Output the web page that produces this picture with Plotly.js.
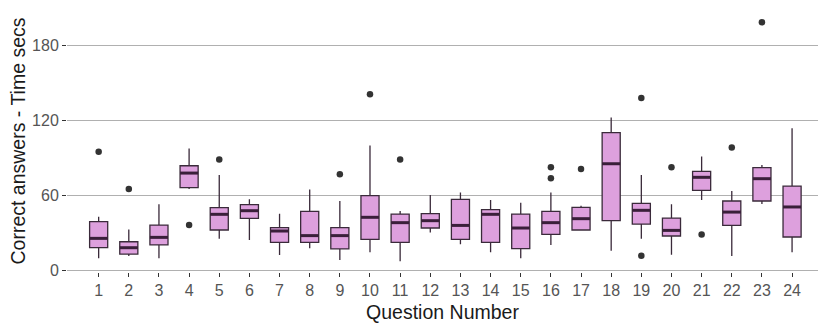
<!DOCTYPE html>
<html>
<head>
<meta charset="utf-8">
<script src="https://cdn.plot.ly/plotly-3.0.1.min.js"></script>
<style>
  html, body { margin: 0; padding: 0; background: #fff; }
  #chart { width: 830px; height: 334px; }
</style>
</head>
<body>
<div id="chart"></div>
<script>
// question numbers and box stats (seconds)
var questions = [1, 2, 3, 4, 5, 6, 7, 8, 9, 10, 11, 12, 13, 14, 15, 16, 17, 18, 19, 20, 21, 22, 23, 24];
var lowerWhisker = [9.4, 11.2, 9.4, 65, 25.1, 24.1, 12, 17.4, 8, 14.2, 7, 30.2, 20.6, 14.2, 9.4, 20.1, 32.1, 15.5, 25.1, 12.3, 56.2, 11.2, 53, 14.2];
var q1Values = [17.9, 12.8, 20.1, 66.1, 32.1, 41.5, 22.2, 22.2, 16.9, 24.6, 22.2, 33.7, 24.6, 22.2, 17.1, 28.6, 32.1, 39.6, 36.9, 27.3, 63.9, 35.8, 55.4, 26.5];
var medianValues = [25.4, 17.9, 26.2, 77.8, 44.7, 47.6, 31.3, 27.6, 27.6, 42.3, 38, 39.6, 35.8, 44.7, 33.7, 38, 41.2, 85.3, 47.9, 31.8, 74.4, 46.5, 73.3, 50.6];
var q3Values = [38.8, 22.7, 36.1, 83.7, 50, 52.4, 34, 47.1, 34, 59.7, 44.9, 45.2, 56.7, 48.4, 44.9, 47.1, 50.3, 110.2, 53.5, 41.7, 79.2, 55.4, 82.1, 67.4];
var upperWhisker = [42.8, 32.6, 52.7, 97.6, 76.2, 56.7, 45.2, 64.7, 55.4, 100, 47.4, 60.2, 62.3, 56.2, 54, 62.3, 51.6, 122.5, 76.2, 52.7, 91.2, 63.4, 84.3, 113.7];

// outliers
var outlierQuestion = [1, 2, 4, 5, 9, 10, 11, 16, 16, 17, 19, 19, 20, 21, 22, 23];
var outlierTime = [95, 65, 36.1, 88.8, 76.8, 141, 88.8, 82.4, 73.6, 81, 138, 11.5, 82.4, 28.6, 98.4, 198.8];

var boxWidth = 0.6;
var fillColor = '#DDA0DD';
var edgeColor = '#3a2a3a';

var boxTrace = {
    type: 'box',
    x: questions,
    q1: q1Values,
    median: medianValues,
    q3: q3Values,
    lowerfence: lowerWhisker,
    upperfence: upperWhisker,
    width: boxWidth,
    whiskerwidth: 0,
    boxpoints: false,
    fillcolor: fillColor,
    line: { color: edgeColor, width: 1.3 },
    hoverinfo: 'skip',
    showlegend: false
};

// thicker median bars like ggplot's fatten
var medX = [], medY = [];
questions.forEach(function (q, i) {
    medX.push(q - boxWidth / 2, q + boxWidth / 2, null);
    medY.push(medianValues[i], medianValues[i], null);
});
var medianTrace = {
    type: 'scatter',
    mode: 'lines',
    x: medX,
    y: medY,
    line: { color: '#3a1f3a', width: 3 },
    hoverinfo: 'skip',
    showlegend: false
};

var outlierTrace = {
    type: 'scatter',
    mode: 'markers',
    x: outlierQuestion,
    y: outlierTime,
    marker: { color: '#333333', size: 6.5 },
    hoverinfo: 'skip',
    showlegend: false
};

// small white breaks in the horizontal grid at each question
var gapShapes = questions.map(function (q) {
    return {
        type: 'line', xref: 'x', yref: 'paper', layer: 'between',
        x0: q, x1: q, y0: 0, y1: 1,
        line: { color: '#ffffff', width: 2 }
    };
});

var layout = {
    width: 830,
    height: 334,
    margin: { l: 67, r: 12, t: 10, b: 62 },
    paper_bgcolor: '#ffffff',
    plot_bgcolor: '#ffffff',
    font: { family: 'Liberation Sans, Arial, sans-serif', color: '#1a1a1a' },
    shapes: gapShapes,
    xaxis: {
        range: [-0.05, 24.86],
        tickmode: 'array',
        tickvals: questions,
        ticktext: questions.map(String),
        ticks: 'outside',
        ticklen: 4,
        tickwidth: 1,
        tickcolor: '#333333',
        tickfont: { size: 16, color: '#555555' },
        showgrid: false,
        zeroline: false,
        showline: false,
        title: { text: 'Question Number', font: { size: 19.5, color: '#1a1a1a' }, standoff: 7 }
    },
    yaxis: {
        range: [-1.6, 208.7],
        tickvals: [0, 60, 120, 180],
        ticks: 'outside',
        ticklen: 4,
        tickwidth: 1,
        tickcolor: '#333333',
        tickfont: { size: 16, color: '#555555' },
        showgrid: true,
        gridcolor: '#b0b0b0',
        gridwidth: 1,
        zeroline: false,
        showline: false,
        title: { text: 'Correct answers - Time secs', font: { size: 19.5, color: '#1a1a1a' }, standoff: 1 }
    }
};

Plotly.newPlot('chart', [boxTrace, medianTrace, outlierTrace], layout, { staticPlot: true, displayModeBar: false });
</script>
</body>
</html>
